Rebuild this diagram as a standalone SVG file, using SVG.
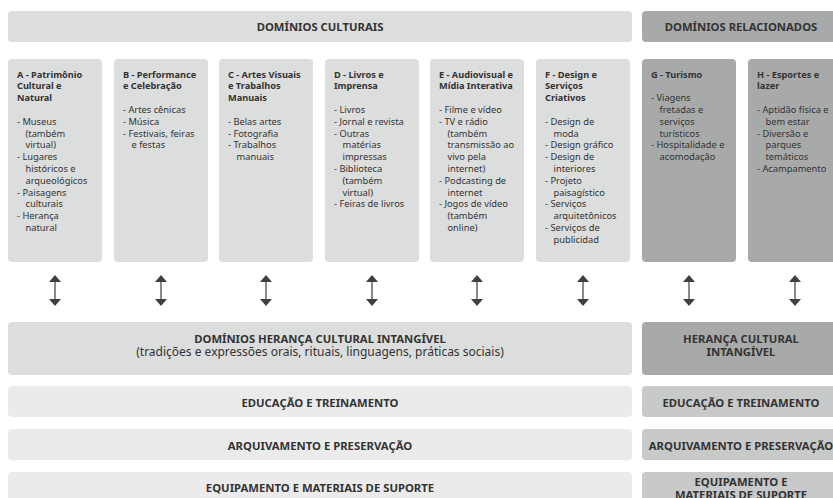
<svg xmlns="http://www.w3.org/2000/svg" width="833" height="498" viewBox="0 0 833 498">
<style>
  .bg { fill: #ffffff; }
  .light { fill: #dcdddd; }
  .dark { fill: #a8aaaa; }
  .pale { fill: #ebebeb; }
  .mid { fill: #c8c9c9; }
  .title { font-family: "Noto Sans", "DejaVu Sans", sans-serif; font-weight: bold; font-size: 11.3px; fill: #333333; text-anchor: middle; }
  .sub { font-weight: normal; font-size: 12px; }
  .head { font-family: "Noto Sans", "DejaVu Sans", sans-serif; font-weight: bold; font-size: 9.2px; fill: #333333; }
  .item { font-family: "Noto Sans", "DejaVu Sans", sans-serif; font-size: 9.3px; fill: #333333; }
  .conn { stroke: #8a8a8a; stroke-width: 2; fill: none; marker-start: url(#head); marker-end: url(#head); }
</style>
<defs>
  <marker id="head" markerUnits="userSpaceOnUse" markerWidth="8" markerHeight="12" refX="0" refY="6" orient="auto-start-reverse" viewBox="0 0 8 12">
    <path d="M0,0 L7,6 L0,12 Z" fill="#404040"/>
  </marker>
</defs>
<rect class="bg" x="0" y="0" width="833" height="498"/>

<g id="header-cultural">
  <rect class="light" x="8" y="11" width="624" height="31" rx="4"/>
  <text class="title" x="320" y="30.5">DOMÍNIOS CULTURAIS</text>
</g>
<g id="header-related">
  <rect class="dark" x="642" y="11" width="200" height="31" rx="4"/>
  <text class="title" x="741" y="30.5">DOMÍNIOS RELACIONADOS</text>
</g>

<g id="node-A">
  <rect class="light" x="8" y="59" width="94" height="203" rx="4"/>
  <text class="head" x="17" y="77.5"><tspan x="17">A - Patrimônio</tspan><tspan x="17" dy="11.8">Cultural e</tspan><tspan x="17" dy="11.8">Natural</tspan></text>
  <text class="item" x="17" y="124.7"><tspan x="17">- Museus</tspan><tspan x="25.5" dy="11.8">(também</tspan><tspan x="25.5" dy="11.8">virtual)</tspan><tspan x="17" dy="11.8">- Lugares</tspan><tspan x="25.5" dy="11.8">históricos e</tspan><tspan x="25.5" dy="11.8">arqueológicos</tspan><tspan x="17" dy="11.8">- Paisagens</tspan><tspan x="25.5" dy="11.8">culturais</tspan><tspan x="17" dy="11.8">- Herança</tspan><tspan x="25.5" dy="11.8">natural</tspan></text>
</g>
<g id="node-B">
  <rect class="light" x="114" y="59" width="94" height="203" rx="4"/>
  <text class="head" x="123" y="77.5"><tspan x="123">B - Performance</tspan><tspan x="123" dy="11.8">e Celebração</tspan></text>
  <text class="item" x="123" y="112.9"><tspan x="123">- Artes cênicas</tspan><tspan x="123" dy="11.8">- Música</tspan><tspan x="123" dy="11.8">- Festivais, feiras</tspan><tspan x="131.5" dy="11.8">e festas</tspan></text>
</g>
<g id="node-C">
  <rect class="light" x="219" y="59" width="94" height="203" rx="4"/>
  <text class="head" x="228" y="77.5"><tspan x="228">C - Artes Visuais</tspan><tspan x="228" dy="11.8">e Trabalhos</tspan><tspan x="228" dy="11.8">Manuais</tspan></text>
  <text class="item" x="228" y="124.7"><tspan x="228">- Belas artes</tspan><tspan x="228" dy="11.8">- Fotografia</tspan><tspan x="228" dy="11.8">- Trabalhos</tspan><tspan x="236.5" dy="11.8">manuais</tspan></text>
</g>
<g id="node-D">
  <rect class="light" x="325" y="59" width="94" height="203" rx="4"/>
  <text class="head" x="334" y="77.5"><tspan x="334">D - Livros e</tspan><tspan x="334" dy="11.8">Imprensa</tspan></text>
  <text class="item" x="334" y="112.9"><tspan x="334">- Livros</tspan><tspan x="334" dy="11.8">- Jornal e revista</tspan><tspan x="334" dy="11.8">- Outras</tspan><tspan x="342.5" dy="11.8">matérias</tspan><tspan x="342.5" dy="11.8">impressas</tspan><tspan x="334" dy="11.8">- Biblioteca</tspan><tspan x="342.5" dy="11.8">(também</tspan><tspan x="342.5" dy="11.8">virtual)</tspan><tspan x="334" dy="11.8">- Feiras de livros</tspan></text>
</g>
<g id="node-E">
  <rect class="light" x="430" y="59" width="94" height="203" rx="4"/>
  <text class="head" x="439" y="77.5"><tspan x="439">E - Audiovisual e</tspan><tspan x="439" dy="11.8">Mídia Interativa</tspan></text>
  <text class="item" x="439" y="112.9"><tspan x="439">- Filme e vídeo</tspan><tspan x="439" dy="11.8">- TV e rádio</tspan><tspan x="447.5" dy="11.8">(também</tspan><tspan x="447.5" dy="11.8">transmissão ao</tspan><tspan x="447.5" dy="11.8">vivo pela</tspan><tspan x="447.5" dy="11.8">internet)</tspan><tspan x="439" dy="11.8">- Podcasting de</tspan><tspan x="447.5" dy="11.8">internet</tspan><tspan x="439" dy="11.8">- Jogos de vídeo</tspan><tspan x="447.5" dy="11.8">(também</tspan><tspan x="447.5" dy="11.8">online)</tspan></text>
</g>
<g id="node-F">
  <rect class="light" x="536" y="59" width="94" height="203" rx="4"/>
  <text class="head" x="545" y="77.5"><tspan x="545">F - Design e</tspan><tspan x="545" dy="11.8">Serviços</tspan><tspan x="545" dy="11.8">Criativos</tspan></text>
  <text class="item" x="545" y="124.7"><tspan x="545">- Design de</tspan><tspan x="553.5" dy="11.8">moda</tspan><tspan x="545" dy="11.8">- Design gráfico</tspan><tspan x="545" dy="11.8">- Design de</tspan><tspan x="553.5" dy="11.8">interiores</tspan><tspan x="545" dy="11.8">- Projeto</tspan><tspan x="553.5" dy="11.8">paisagístico</tspan><tspan x="545" dy="11.8">- Serviços</tspan><tspan x="553.5" dy="11.8">arquitetônicos</tspan><tspan x="545" dy="11.8">- Serviços de</tspan><tspan x="553.5" dy="11.8">publicidad</tspan></text>
</g>
<g id="node-G">
  <rect class="dark" x="642" y="59" width="94" height="203" rx="4"/>
  <text class="head" x="651" y="77.5"><tspan x="651">G - Turismo</tspan></text>
  <text class="item" x="651" y="101.1"><tspan x="651">- Viagens</tspan><tspan x="659.5" dy="11.8">fretadas e</tspan><tspan x="659.5" dy="11.8">serviços</tspan><tspan x="659.5" dy="11.8">turísticos</tspan><tspan x="651" dy="11.8">- Hospitalidade e</tspan><tspan x="659.5" dy="11.8">acomodação</tspan></text>
</g>
<g id="node-H">
  <rect class="dark" x="748" y="59" width="94" height="203" rx="4"/>
  <text class="head" x="757" y="77.5"><tspan x="757">H - Esportes e</tspan><tspan x="757" dy="11.8">lazer</tspan></text>
  <text class="item" x="757" y="112.9"><tspan x="757">- Aptidão física e</tspan><tspan x="765.5" dy="11.8">bem estar</tspan><tspan x="757" dy="11.8">- Diversão e</tspan><tspan x="765.5" dy="11.8">parques</tspan><tspan x="765.5" dy="11.8">temáticos</tspan><tspan x="757" dy="11.8">- Acampamento</tspan></text>
</g>

<g id="connectors">
  <line class="conn" x1="55" y1="282" x2="55" y2="299"/>
  <line class="conn" x1="161" y1="282" x2="161" y2="299"/>
  <line class="conn" x1="266" y1="282" x2="266" y2="299"/>
  <line class="conn" x1="372" y1="282" x2="372" y2="299"/>
  <line class="conn" x1="477" y1="282" x2="477" y2="299"/>
  <line class="conn" x1="583" y1="282" x2="583" y2="299"/>
  <line class="conn" x1="689" y1="282" x2="689" y2="299"/>
  <line class="conn" x1="795" y1="282" x2="795" y2="299"/>
</g>

<g id="intangible-cultural">
  <rect class="light" x="8" y="322" width="624" height="53" rx="4"/>
  <text class="title" x="320" y="342.5"><tspan x="320">DOMÍNIOS HERANÇA CULTURAL INTANGÍVEL</tspan><tspan class="sub" x="320" dy="13">(tradições e expressões orais, rituais, linguagens, práticas sociais)</tspan></text>
</g>
<g id="intangible-related">
  <rect class="dark" x="642" y="322" width="200" height="53" rx="4"/>
  <text class="title" x="741" y="342.5"><tspan x="741">HERANÇA CULTURAL</tspan><tspan x="741" dy="13">INTANGÍVEL</tspan></text>
</g>

<g id="education-cultural">
  <rect class="pale" x="8" y="386" width="624" height="31" rx="4"/>
  <text class="title" x="320" y="406.5">EDUCAÇÃO E TREINAMENTO</text>
</g>
<g id="education-related">
  <rect class="mid" x="642" y="386" width="200" height="31" rx="4"/>
  <text class="title" x="741" y="406.5">EDUCAÇÃO E TREINAMENTO</text>
</g>

<g id="archive-cultural">
  <rect class="pale" x="8" y="429" width="624" height="31" rx="4"/>
  <text class="title" x="320" y="449.5">ARQUIVAMENTO E PRESERVAÇÃO</text>
</g>
<g id="archive-related">
  <rect class="mid" x="642" y="429" width="200" height="31" rx="4"/>
  <text class="title" x="741" y="449.5">ARQUIVAMENTO E PRESERVAÇÃO</text>
</g>

<g id="equipment-cultural">
  <rect class="pale" x="8" y="472" width="624" height="40" rx="4"/>
  <text class="title" x="320" y="492">EQUIPAMENTO E MATERIAIS DE SUPORTE</text>
</g>
<g id="equipment-related">
  <rect class="mid" x="642" y="472" width="200" height="40" rx="4"/>
  <text class="title" x="741" y="486"><tspan x="741">EQUIPAMENTO E</tspan><tspan x="741" dy="12.5">MATERIAIS DE SUPORTE</tspan></text>
</g>
</svg>
